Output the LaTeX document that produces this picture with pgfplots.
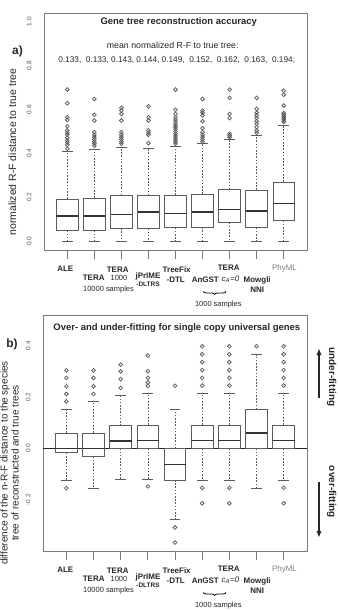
\documentclass[border=0pt]{standalone}
\usepackage{fontspec}
\setmainfont{Liberation Sans}
\usepackage{pgfplots}
\pgfplotsset{compat=1.18}
\usepgfplotslibrary{statistics}
\usetikzlibrary{decorations.pathreplacing,arrows.meta}

\definecolor{boxline}{HTML}{5C5C5C}
\definecolor{frameline}{HTML}{7A7A7A}
\definecolor{ticktext}{HTML}{555555}
\definecolor{labeltext}{HTML}{262626}

\newcommand\fs[1]{\fontsize{#1}{#1}\selectfont}

\pgfplotsset{
  boxplot/draw direction=y,
  boxplot/box extend=0.8,
  boxplot/whisker extend=0.4,
  boxplot/every box/.style={draw=boxline, line width=0.8bp},
  boxplot/every median/.style={draw=black!80, line width=1.6bp},
  boxplot/draw/lower whisker/.code={%
    \draw[boxline, line width=0.6bp, dash pattern=on 1.6bp off 1.6bp]
      (boxplot box cs:\pgfplotsboxplotvalue{lower quartile},0.5) --
      (boxplot box cs:\pgfplotsboxplotvalue{lower whisker},0.5);
    \draw[boxline, line width=0.8bp]
      (boxplot whisker cs:\pgfplotsboxplotvalue{lower whisker},0) --
      (boxplot whisker cs:\pgfplotsboxplotvalue{lower whisker},1);
  },
  boxplot/draw/upper whisker/.code={%
    \draw[boxline, line width=0.6bp, dash pattern=on 1.6bp off 1.6bp]
      (boxplot box cs:\pgfplotsboxplotvalue{upper quartile},0.5) --
      (boxplot box cs:\pgfplotsboxplotvalue{upper whisker},0.5);
    \draw[boxline, line width=0.8bp]
      (boxplot whisker cs:\pgfplotsboxplotvalue{upper whisker},0) --
      (boxplot whisker cs:\pgfplotsboxplotvalue{upper whisker},1);
  },
  rbox/.style={
    boxplot prepared={#1},
    draw=boxline, mark=o, mark size=1.9bp,
    mark options={draw=boxline, line width=0.75bp, solid},
  },
  panel/.style={
    scale only axis, anchor=south west,
    xmin=0.14, xmax=9.86,
    xtick={1,2,3,4,5,6,7,8,9}, xticklabels={},
    tick align=outside, tick pos=left,
    major tick length=9bp,
    xtick style={draw=frameline, line width=0.8bp},
    ytick style={draw=none},
    axis line style={draw=frameline, line width=0.8bp},
    yticklabel style={rotate=90, anchor=south, font=\fs{6.5}, text=ticktext},
    clip=false,
  },
}

% labels under the nine methods, positioned in bp from the top-left corner
\newcommand\catlabels{%
  \node[anchor=base, font=\bfseries\fs{8}] at (65.3bp,-271bp) {ALE};
  \node[anchor=base, font=\bfseries\fs{8}] at (93.7bp,-280.3bp) {TERA};
  \node[anchor=base, font=\fs{7.5}] at (108.5bp,-291.8bp) {10000 samples};
  \node[anchor=base, font=\bfseries\fs{8}] at (117.7bp,-272bp) {TERA};
  \node[anchor=base, font=\fs{7.5}] at (119bp,-280.5bp) {1000};
  \node[anchor=base, font=\bfseries\fs{8}] at (148bp,-278bp) {jPrIME};
  \node[anchor=base, font=\bfseries\fs{6.5}] at (148bp,-286.2bp) {-DLTRS};
  \node[anchor=base, font=\bfseries\fs{8}] at (176.7bp,-272bp) {TreeFix};
  \node[anchor=base, font=\bfseries\fs{8}] at (175.7bp,-282.2bp) {-DTL};
  \node[anchor=base, font=\bfseries\fs{8}] at (205.3bp,-282.2bp) {AnGST};
  \node[anchor=base, font=\bfseries\fs{8}] at (228.7bp,-270.2bp) {TERA};
  \node[anchor=base, font=\itshape\fs{8}] at (230.5bp,-281bp) {c\textsubscript{A}=0};
  \node[anchor=base, font=\bfseries\fs{8}] at (257.2bp,-282.2bp) {Mowgli};
  \node[anchor=base, font=\bfseries\fs{8}] at (257.3bp,-292bp) {NNI};
  \node[anchor=base, font=\fs{8}, text=gray] at (284.5bp,-270.2bp) {PhyML};
  \draw[decorate, decoration={brace, mirror, amplitude=3bp}, line width=0.8bp]
    (203.3bp,-291.5bp) -- (226bp,-291.5bp);
  \node[anchor=base, font=\fs{7.5}] at (218.3bp,-306bp) {1000 samples};
}

\begin{document}
\begin{tikzpicture}[text=labeltext]
\useasboundingbox (0,0) rectangle (338bp,-610bp);

% ---------------- a) gene tree reconstruction accuracy ----------------
\begin{axis}[panel,
  at={(44bp,-250bp)}, width=263bp, height=237bp,
  ymin=-0.04, ymax=1.04,
  ytick={0,0.2,0.4,0.6,0.8,1}, yticklabels={0.0,0.2,0.4,0.6,0.8,1.0},
]
\addplot[rbox={draw position=1, median=0.115, lower quartile=0.049, upper quartile=0.192, lower whisker=0, upper whisker=0.409}]
  table[row sep=\\, y index=0] {v\\ 0.421\\ 0.44\\ 0.45\\ 0.459\\ 0.471\\ 0.485\\ 0.494\\ 0.505\\ 0.524\\ 0.553\\ 0.565\\ 0.629\\ 0.691\\};
\addplot[rbox={draw position=2, median=0.115, lower quartile=0.049, upper quartile=0.197, lower whisker=0, upper whisker=0.418}]
  table[row sep=\\, y index=0] {v\\ 0.435\\ 0.445\\ 0.453\\ 0.464\\ 0.474\\ 0.485\\ 0.497\\ 0.55\\ 0.576\\ 0.648\\};
\addplot[rbox={draw position=3, median=0.121, lower quartile=0.059, upper quartile=0.209, lower whisker=0, upper whisker=0.429}]
  table[row sep=\\, y index=0] {v\\ 0.445\\ 0.453\\ 0.464\\ 0.474\\ 0.485\\ 0.497\\ 0.55\\ 0.58\\ 0.595\\ 0.608\\};
\addplot[rbox={draw position=4, median=0.132, lower quartile=0.058, upper quartile=0.208, lower whisker=0, upper whisker=0.424}]
  table[row sep=\\, y index=0] {v\\ 0.447\\ 0.485\\ 0.494\\ 0.505\\ 0.55\\ 0.565\\ 0.614\\};
\addplot[rbox={draw position=5, median=0.126, lower quartile=0.062, upper quartile=0.211, lower whisker=0, upper whisker=0.432}]
  table[row sep=\\, y index=0] {v\\ 0.444\\ 0.452\\ 0.46\\ 0.47\\ 0.48\\ 0.49\\ 0.5\\ 0.51\\ 0.52\\ 0.53\\ 0.541\\ 0.553\\ 0.565\\ 0.58\\ 0.599\\ 0.691\\};
\addplot[rbox={draw position=6, median=0.132, lower quartile=0.064, upper quartile=0.215, lower whisker=0, upper whisker=0.444}]
  table[row sep=\\, y index=0] {v\\ 0.453\\ 0.464\\ 0.474\\ 0.485\\ 0.497\\ 0.515\\ 0.547\\ 0.573\\ 0.585\\ 0.595\\ 0.648\\};
\addplot[rbox={draw position=7, median=0.144, lower quartile=0.085, upper quartile=0.235, lower whisker=0, upper whisker=0.462}]
  table[row sep=\\, y index=0] {v\\ 0.474\\ 0.482\\ 0.49\\ 0.561\\ 0.58\\ 0.653\\ 0.691\\};
\addplot[rbox={draw position=8, median=0.139, lower quartile=0.062, upper quartile=0.233, lower whisker=0, upper whisker=0.482}]
  table[row sep=\\, y index=0] {v\\ 0.494\\ 0.505\\ 0.52\\ 0.535\\ 0.547\\ 0.561\\ 0.573\\ 0.585\\ 0.603\\ 0.653\\};
\addplot[rbox={draw position=9, median=0.171, lower quartile=0.094, upper quartile=0.270, lower whisker=0, upper whisker=0.53}]
  table[row sep=\\, y index=0] {v\\ 0.544\\ 0.553\\ 0.561\\ 0.569\\ 0.577\\ 0.584\\ 0.618\\ 0.668\\ 0.686\\};
\end{axis}

\node[anchor=base, font=\bfseries\fs{9.5}] at (178.7bp,-24.7bp) {Gene tree reconstruction accuracy};
\node[anchor=base, font=\fs{8.8}] at (172.7bp,-48bp) {mean normalized R-F to true tree:};
\node[anchor=base, font=\fs{8.3}] at (176.7bp,-62.2bp)
  {0.133,~~0.133, 0.143, 0.144, 0.149,~~0.152,~~0.162,~~0.163,~~0.194;};
\node[font=\bfseries\fs{12}] at (17.5bp,-51bp) {a)};
\node[rotate=90, font=\fs{10.5}] at (12.5bp,-152bp) {normalized R-F distance to true tree};
\catlabels

% ---------------- b) over- and under-fitting ----------------
\begin{axis}[panel,
  at={(43bp,-551bp)}, width=264bp, height=236bp,
  ymin=-0.40, ymax=0.52,
  ytick={-0.2,0,0.2,0.4}, yticklabels={-0.2,0.0,0.2,0.4},
]
\addplot[black!85, line width=0.6bp, forget plot] coordinates {(0.14,0) (9.86,0)};
\addplot[rbox={draw position=1, median=0, lower quartile=-0.017, upper quartile=0.060, lower whisker=-0.123, upper whisker=0.152}]
  table[row sep=\\, y index=0] {v\\ -0.155\\ 0.183\\ 0.212\\ 0.242\\ 0.275\\ 0.304\\};
\addplot[rbox={draw position=2, median=0, lower quartile=-0.032, upper quartile=0.060, lower whisker=-0.154, upper whisker=0.184}]
  table[row sep=\\, y index=0] {v\\ 0.212\\ 0.242\\ 0.275\\ 0.304\\};
\addplot[rbox={draw position=3, median=0.029, lower quartile=0, upper quartile=0.088, lower whisker=-0.12, upper whisker=0.208}]
  table[row sep=\\, y index=0] {v\\ 0.236\\ 0.27\\ 0.30\\ 0.327\\};
\addplot[rbox={draw position=4, median=0.031, lower quartile=0, upper quartile=0.091, lower whisker=-0.12, upper whisker=0.213}]
  table[row sep=\\, y index=0] {v\\ -0.148\\ 0.244\\ 0.257\\ 0.275\\ 0.301\\ 0.362\\};
\addplot[rbox={draw position=5, median=-0.062, lower quartile=-0.123, upper quartile=0, lower whisker=-0.275, upper whisker=0.152}]
  table[row sep=\\, y index=0] {v\\ -0.367\\ -0.308\\ 0.244\\};
\addplot[rbox={draw position=6, median=0.031, lower quartile=0, upper quartile=0.091, lower whisker=-0.123, upper whisker=0.214}]
  table[row sep=\\, y index=0] {v\\ -0.214\\ -0.154\\ 0.245\\ 0.275\\ 0.305\\ 0.336\\ 0.367\\ 0.398\\};
\addplot[rbox={draw position=7, median=0.031, lower quartile=0, upper quartile=0.091, lower whisker=-0.123, upper whisker=0.214}]
  table[row sep=\\, y index=0] {v\\ -0.214\\ -0.154\\ 0.245\\ 0.275\\ 0.305\\ 0.336\\ 0.367\\ 0.398\\};
\addplot[rbox={draw position=8, median=0.060, lower quartile=0, upper quartile=0.152, lower whisker=-0.154, upper whisker=0.366}]
  table[row sep=\\, y index=0] {v\\ 0.398\\};
\addplot[rbox={draw position=9, median=0.031, lower quartile=0, upper quartile=0.091, lower whisker=-0.123, upper whisker=0.214}]
  table[row sep=\\, y index=0] {v\\ -0.214\\ -0.154\\ 0.245\\ 0.275\\ 0.305\\ 0.336\\ 0.367\\ 0.398\\};
\end{axis}

\node[anchor=base, font=\bfseries\fs{9.5}] at (176.8bp,-330bp)
  {Over- and under-fitting for single copy universal genes};
\node[font=\bfseries\fs{12}] at (12bp,-344bp) {b)};
\node[rotate=90, font=\fontsize{10}{11}\selectfont, align=center] at (9.5bp,-463bp)
  {difference of the n-R-F distance to the species\\tree of reconstructed and true trees};
\begin{scope}[yshift=-301bp]
  \catlabels
\end{scope}

% direction hints on the right
\node[rotate=-90, font=\bfseries\fs{10}] at (331.7bp,-377bp) {under-fitting};
\node[rotate=-90, font=\bfseries\fs{10}] at (331.7bp,-492bp) {over-fitting};
\draw[-{Triangle[length=6bp,width=4.5bp]}, line width=1.2bp, labeltext]
  (319bp,-398bp) -- (319bp,-349bp);
\draw[-{Triangle[length=6bp,width=4.5bp]}, line width=1.2bp, labeltext]
  (319bp,-482bp) -- (319bp,-537bp);
\end{tikzpicture}
\end{document}
